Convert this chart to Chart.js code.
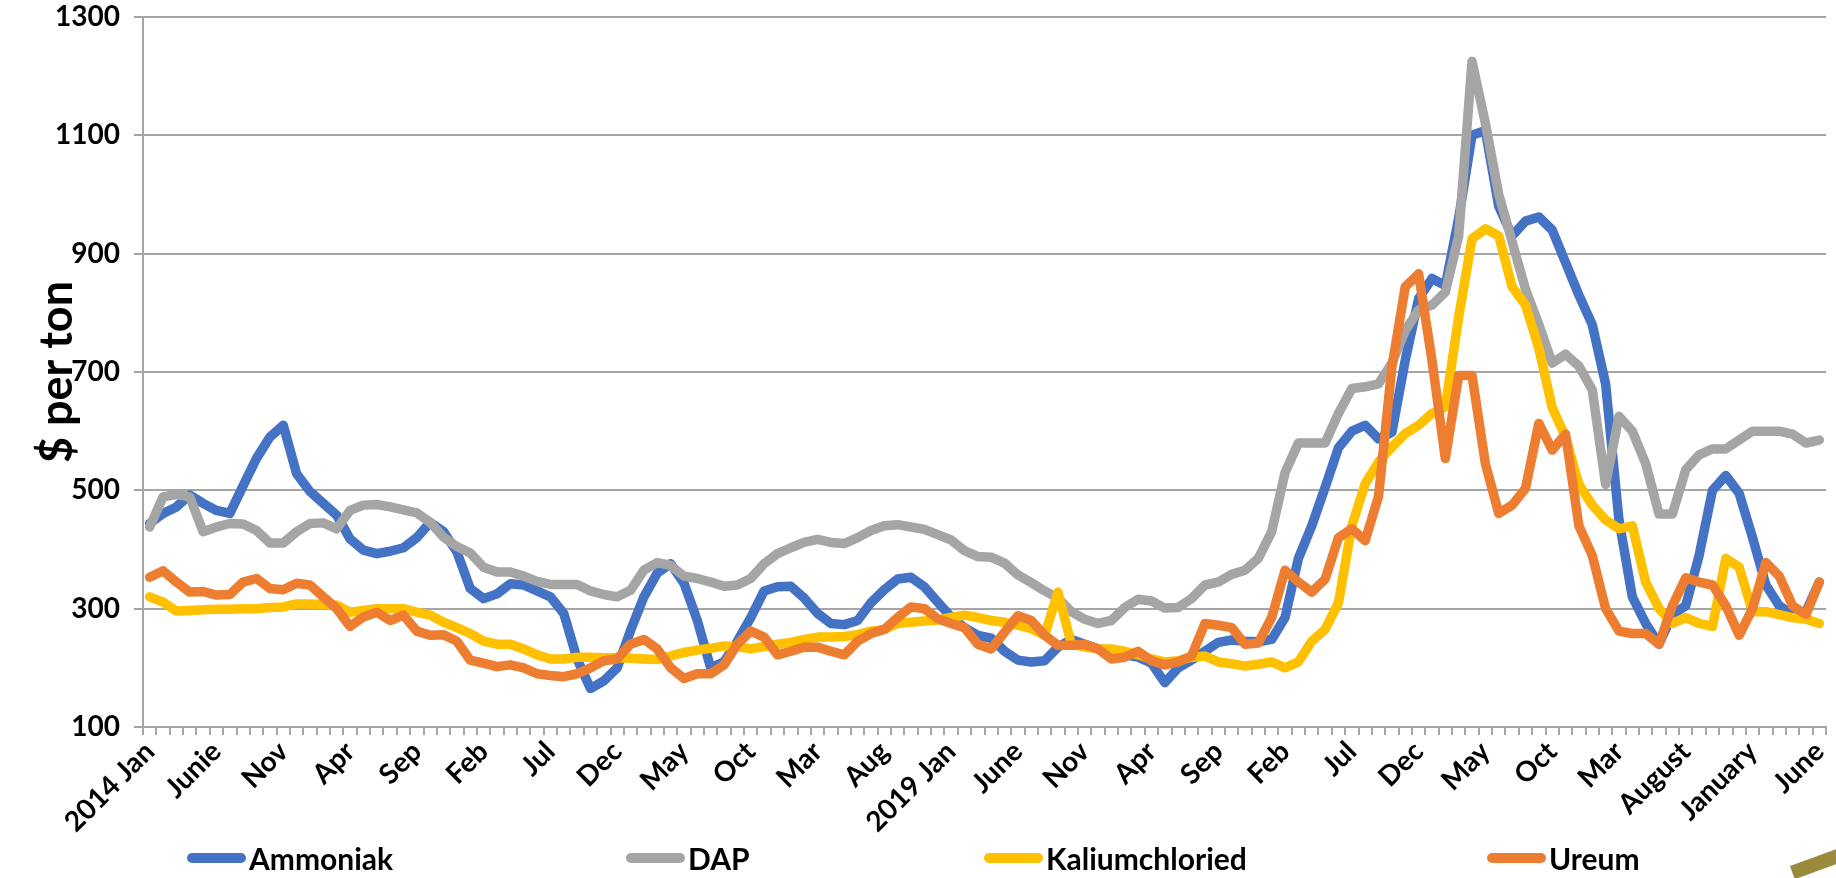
<!DOCTYPE html>
<html>
<head>
<meta charset="utf-8">
<script src="https://cdn.jsdelivr.net/npm/chart.js@4.4.1/dist/chart.umd.min.js"></script>
<style>
  html, body { margin: 0; padding: 0; background: #fff; }
  #wrap { position: relative; width: 1836px; height: 878px; overflow: hidden; }
  #chart { position: absolute; left: 0; top: 0; }
  .leg { position: absolute; top: 839px; height: 38px; display: flex; align-items: center;
         font-family: Lato, "Open Sans", sans-serif; font-weight: bold; font-size: 30px; color: #000; white-space: nowrap; }
  .leg .sw { display: inline-block; width: 59px; height: 10px; margin-right: 3px; border-radius: 5px; }
  #corner { position: absolute; left: 1790px; top: 866px; width: 70px; height: 14px; background: #9a8a3c;
            transform: rotate(-20deg); transform-origin: left top; }
</style>
</head>
<body>
<div id="wrap">
  <canvas id="chart" width="1836" height="878"></canvas>
  <div id="legend"></div>
  <div id="corner"></div>
</div>
<script>
// Tick labels shown every 5 months (Jan 2014 .. Jun 2024)
const tickLabels = ["2014 Jan", "Junie", "Nov", "Apr", "Sep", "Feb", "Jul", "Dec", "May", "Oct",
    "Mar", "Aug", "2019 Jan", "June", "Nov", "Apr", "Sep", "Feb", "Jul", "Dec",
    "May", "Oct", "Mar", "August", "January", "June"];

// One category per month
const monthNames = ["Jan", "Feb", "Mar", "Apr", "May", "Jun", "Jul", "Aug", "Sep", "Oct", "Nov", "Dec"];
const categories = [];
for (let y = 2014; y <= 2024; y++) {
    for (let m = 0; m < 12; m++) {
        if (y === 2024 && m > 5) break;
        categories.push(y + " " + monthNames[m]);
    }
}

const ammoniak = [
    444, 461, 472, 492, 478, 466, 461, 508, 554, 590,
    610, 528, 498, 478, 458, 418, 399, 393, 397, 403,
    420, 446, 430, 396, 334, 317, 325, 342, 340, 330,
    320, 292, 215, 165, 178, 200, 263, 320, 360, 376,
    343, 280, 200, 210, 245, 285, 330, 337, 338, 318,
    292, 275, 273, 280, 310, 332, 350, 353, 337, 311,
    286, 268, 255, 250, 228, 213, 210, 212, 235, 248,
    240, 232, 228, 222, 218, 208, 175, 200, 213, 228,
    243, 247, 245, 244, 248, 285, 385, 440, 505, 572,
    600, 610, 587, 598, 720, 824, 858, 846, 960, 1100,
    1108, 980, 930, 955, 962, 940, 885, 830, 780, 680,
    450, 320, 275, 240, 290, 305, 390, 500, 525, 495,
    420, 340, 305, 290, 295, 345];

const dap = [
    438, 489, 493, 489, 430, 438, 444, 443, 432, 411,
    411, 430, 444, 445, 435, 466, 475, 476, 472, 467,
    462, 446, 421, 405, 394, 370, 362, 362, 355, 346,
    341, 341, 341, 330, 324, 320, 331, 365, 378, 373,
    355, 351, 345, 338, 340, 351, 376, 393, 403, 412,
    417, 412, 410, 420, 432, 440, 442, 438, 434, 425,
    416, 398, 388, 387, 377, 357, 344, 330, 318, 295,
    282, 275, 280, 302, 316, 313, 301, 302, 317, 340,
    345, 358, 365, 385, 430, 530, 580, 580, 580, 630,
    672, 675, 680, 715, 770, 805, 813, 835, 930, 1225,
    1120, 1000, 920, 840, 780, 715, 730, 710, 670, 510,
    625, 600, 545, 460, 460, 535, 560, 570, 570, 585,
    600, 600, 600, 595, 580, 585];

const kaliumchloried = [
    320, 311, 296, 297, 298, 299, 299, 300, 300, 302,
    303, 308, 308, 307, 306, 294, 297, 300, 300, 300,
    294, 289, 277, 268, 258, 245, 240, 240, 232, 222,
    215, 215, 218, 218, 217, 217, 216, 215, 214, 220,
    226, 230, 233, 237, 236, 232, 236, 240, 243, 248,
    252, 252, 253, 256, 262, 265, 275, 277, 279, 281,
    285, 289, 285, 280, 277, 272, 266, 255, 328, 240,
    235, 232, 232, 228, 222, 215, 210, 212, 218, 220,
    210, 207, 203, 206, 210, 200, 210, 245, 265, 310,
    440, 511, 548, 573, 596, 610, 630, 641, 793, 925,
    942, 930, 844, 813, 740, 640, 590, 510, 475, 450,
    435, 440, 345, 300, 275, 285, 275, 270, 385, 370,
    295, 295, 290, 285, 282, 275];

const ureum = [
    353, 364, 345, 328, 329, 323, 324, 345, 351, 334,
    332, 343, 340, 320, 300, 270, 286, 294, 280, 289,
    262, 255, 256, 245, 213, 208, 202, 205, 200, 190,
    187, 185, 190, 200, 212, 215, 240, 248, 232, 200,
    182, 190, 190, 205, 240, 262, 252, 222, 228, 235,
    235, 228, 222, 245, 258, 265, 285, 303, 300, 283,
    275, 268, 240, 232, 260, 288, 280, 255, 238, 238,
    240, 232, 215, 218, 228, 212, 205, 210, 220, 275,
    272, 268, 240, 242, 285, 365, 345, 328, 350, 420,
    435, 415, 490, 708, 844, 866, 720, 554, 694, 694,
    545, 461, 475, 503, 613, 568, 595, 440, 390, 300,
    262, 258, 258, 240, 305, 352, 345, 340, 305, 255,
    300, 378, 355, 305, 290, 345];

const seriesNames = ["Ammoniak", "DAP", "Kaliumchloried", "Ureum"];
const seriesColors = ["#4472C4", "#A5A5A5", "#FFC000", "#ED7D31"];
const seriesData = [ammoniak, dap, kaliumchloried, ureum];

// layout of the legend entries (left edge in px)
const legendLeft = [187, 626, 984, 1487];

const fontFamily = "Lato, 'Open Sans', sans-serif";
const gridColor = "#A6A6A6";

document.addEventListener("DOMContentLoaded", () => {
    buildLegend();
    initChart();
});

function buildLegend() {
    const box = document.getElementById("legend");
    seriesNames.forEach((name, i) => {
        const item = document.createElement("div");
        item.className = "leg";
        item.style.left = legendLeft[i] + "px";
        item.innerHTML = `<span class="sw" style="background:${seriesColors[i]}"></span><span>${name}</span>`;
        box.appendChild(item);
    });
}

function initChart() {
    const ctx = document.getElementById("chart");

    const datasets = seriesNames.map((name, i) => ({
        label: name,
        data: seriesData[i],
        borderColor: seriesColors[i],
        backgroundColor: seriesColors[i],
        borderWidth: 9.5,
        pointRadius: 0,
        tension: 0,
        fill: false,
        borderJoinStyle: "round",
        borderCapStyle: "round",
        order: seriesNames.length - 1 - i // later series on top, like Excel
    }));

    new Chart(ctx, {
        type: "line",
        data: { labels: categories, datasets: datasets },
        options: {
            responsive: false,
            animation: false,
            devicePixelRatio: 1,
            layout: { padding: { top: 17, right: 10, left: 0, bottom: 0 } },
            plugins: {
                legend: { display: false },
                tooltip: { enabled: false }
            },
            scales: {
                x: {
                    offset: true,
                    grid: { offset: true, drawOnChartArea: false, tickLength: 8, color: gridColor, lineWidth: 2 },
                    border: { color: gridColor, width: 2 },
                    ticks: {
                        autoSkip: false,
                        maxRotation: 45,
                        minRotation: 45,
                        padding: 0,
                        color: "#000",
                        font: { family: fontFamily, weight: "bold", size: 28 },
                        callback: (val, i) => (i % 5 === 0 ? tickLabels[i / 5] : "")
                    },
                    afterFit: (s) => { s.height = 151; s.paddingLeft = 0; s.paddingRight = 0; }
                },
                y: {
                    min: 100,
                    max: 1300,
                    grid: { color: gridColor, lineWidth: 2, tickLength: 9 },
                    border: { color: gridColor, width: 2 },
                    ticks: {
                        stepSize: 200,
                        padding: 14,
                        color: "#000",
                        font: { family: fontFamily, weight: "bold", size: 28 },
                        callback: (v) => String(v)
                    },
                    title: {
                        display: true,
                        text: "$ per ton",
                        color: "#000",
                        padding: { top: 30, bottom: 0 },
                        font: { family: fontFamily, weight: "bold", size: 45 }
                    },
                    afterFit: (s) => { s.width = 143; s.paddingTop = 0; s.paddingBottom = 0; }
                }
            }
        }
    });
}
</script>
</body>
</html>
